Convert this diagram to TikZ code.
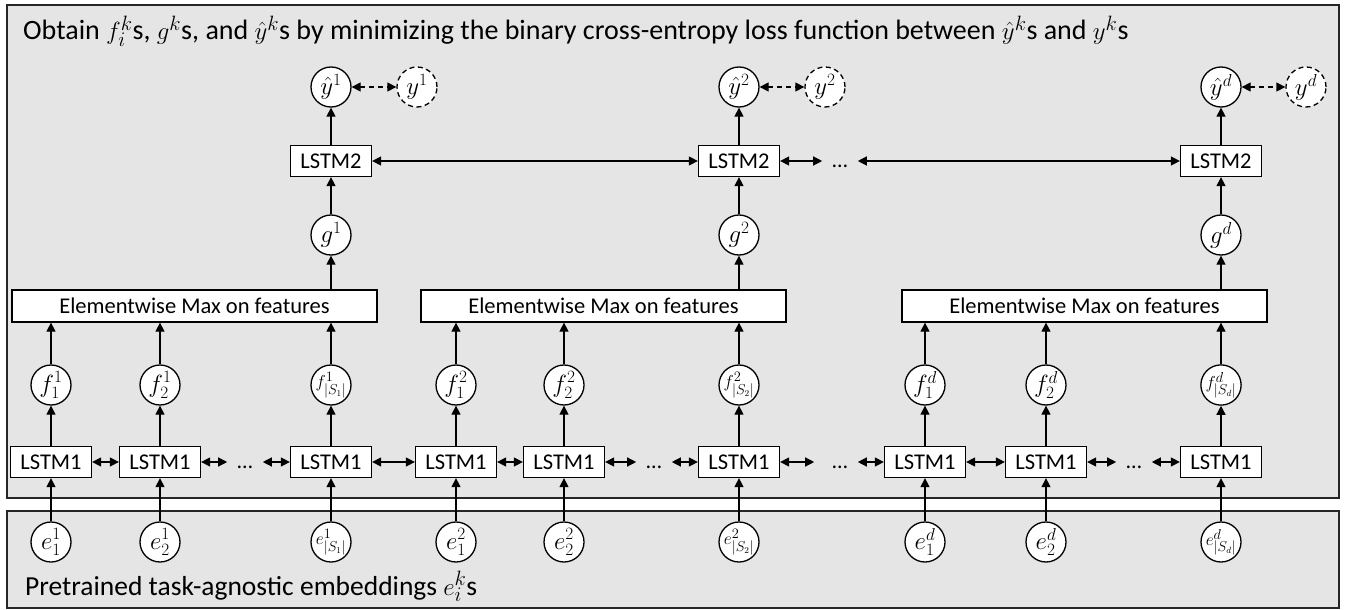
\documentclass[tikz,border=0pt]{standalone}
\usepackage{fontspec}
\setmainfont{Carlito}
\usetikzlibrary{arrows.meta}
\begin{document}
\begin{tikzpicture}[x=1pt,y=-1pt,
  panel/.style={draw=black!85, line width=1.3pt, fill=black!10},
  lbox/.style={draw, line width=1.3pt, fill=white, minimum width=81pt, minimum height=31pt, inner sep=0pt, font=\fontsize{22.5}{25}\selectfont},
  ebox/.style={draw, line width=1.3pt, fill=white, minimum width=365pt, minimum height=32pt, inner sep=0pt, font=\fontsize{22.5}{25}\selectfont},
  circ/.style={circle, draw, line width=1.3pt, fill=white, minimum size=40pt, inner sep=0pt, font=\fontsize{23}{25}\selectfont},
  scirc/.style={circ, font=\fontsize{19}{21}\selectfont},
  dcirc/.style={circ, dash pattern=on 5pt off 3.5pt},
  dotlbl/.style={font=\fontsize{22}{24}\selectfont, inner xsep=10pt, inner ysep=0pt},
  arr/.style={-{Triangle[length=9pt,width=9pt]}, line width=1.3pt},
  darr/.style={{Triangle[length=9pt,width=9pt]}-{Triangle[length=9pt,width=9pt]}, line width=1.3pt},
  txt/.style={font=\fontsize{28}{32}\selectfont, inner sep=0pt}
]
\useasboundingbox (0,0) rectangle (1345,610);
\draw[panel] (7,5) rectangle (1339,498);
\draw[panel] (7,511) rectangle (1339,608);

\node[txt, anchor=base west] (title) at (23,40) {Obtain $f_i^k$s, $g^k$s, and $\hat{y}^k$s by minimizing the binary cross-entropy loss function between $\hat{y}^k$s and $y^k$s};
\node[txt, font=\fontsize{27.5}{31}\selectfont, anchor=base west] (bottom) at (25,595) {Pretrained task-agnostic embeddings $e_i^k$s};

% LSTM1 row
\node[lbox] (l1) at (51,462) {LSTM1};
\node[lbox] (l2) at (160,462) {LSTM1};
\node[lbox] (l3) at (331,462) {LSTM1};
\node[lbox] (l4) at (456,462) {LSTM1};
\node[lbox] (l5) at (564,462) {LSTM1};
\node[lbox] (l6) at (739,462) {LSTM1};
\node[lbox] (l7) at (925,462) {LSTM1};
\node[lbox] (l8) at (1046,462) {LSTM1};
\node[lbox] (l9) at (1221,462) {LSTM1};
\node[dotlbl] (d1) at (245,467) {…};
\node[dotlbl] (d2) at (654,467) {…};
\node[dotlbl] (d3) at (840,467) {…};
\node[dotlbl] (d4) at (1134,467) {…};

\draw[darr] (l1.east) -- (l2.west);
\draw[darr] (l2.east) -- (d1.west |- l2.east);
\draw[darr] (d1.east |- l3.west) -- (l3.west);
\draw[darr] (l3.east) -- (l4.west);
\draw[darr] (l4.east) -- (l5.west);
\draw[darr] (l5.east) -- (d2.west |- l5.east);
\draw[darr] (d2.east |- l6.west) -- (l6.west);
\draw[darr] (l6.east) -- ([xshift=-8pt]d3.west |- l6.east);
\draw[darr] (d3.east |- l7.west) -- (l7.west);
\draw[darr] (l7.east) -- (l8.west);
\draw[darr] (l8.east) -- (d4.west |- l8.east);
\draw[darr] (d4.east |- l9.west) -- (l9.west);

% e row
\node[circ] (e1) at (51,542) {$e^1_1$};
\node[circ] (e2) at (160,542) {$e^1_2$};
\node[scirc] (e3) at (331,542) {$e^1_{|S_1|}$};
\node[circ] (e4) at (456,542) {$e^2_1$};
\node[circ] (e5) at (564,542) {$e^2_2$};
\node[scirc] (e6) at (739,542) {$e^2_{|S_2|}$};
\node[circ] (e7) at (925,542) {$e^d_1$};
\node[circ] (e8) at (1046,542) {$e^d_2$};
\node[scirc] (e9) at (1221,542) {$e^d_{|S_d|}$};

% f row
\node[circ] (f1) at (51,385) {$f^1_1$};
\node[circ] (f2) at (160,385) {$f^1_2$};
\node[scirc] (f3) at (331,385) {$f^1_{|S_1|}$};
\node[circ] (f4) at (456,385) {$f^2_1$};
\node[circ] (f5) at (564,385) {$f^2_2$};
\node[scirc] (f6) at (739,385) {$f^2_{|S_2|}$};
\node[circ] (f7) at (925,385) {$f^d_1$};
\node[circ] (f8) at (1046,385) {$f^d_2$};
\node[scirc] (f9) at (1221,385) {$f^d_{|S_d|}$};

\foreach \i in {1,...,9}{
  \draw[arr] (e\i.north) -- (l\i.south);
  \draw[arr] (l\i.north) -- (f\i.south);
}

% elementwise max
\node[ebox] (m1) at (194.5,306) {Elementwise Max on features};
\node[ebox] (m2) at (603.5,306) {Elementwise Max on features};
\node[ebox] (m3) at (1084.5,306) {Elementwise Max on features};
\foreach \i in {1,2,3}{\draw[arr] (f\i.north) -- (f\i.north |- m1.south);}
\foreach \i in {4,5,6}{\draw[arr] (f\i.north) -- (f\i.north |- m2.south);}
\foreach \i in {7,8,9}{\draw[arr] (f\i.north) -- (f\i.north |- m3.south);}

% g
\node[circ] (g1) at (331,235) {$g^1$};
\node[circ] (g2) at (739,235) {$g^2$};
\node[circ] (g3) at (1221,235) {$g^d$};
\draw[arr] (g1.south |- m1.north) -- (g1.south);
\draw[arr] (g2.south |- m2.north) -- (g2.south);
\draw[arr] (g3.south |- m3.north) -- (g3.south);

% LSTM2
\node[lbox] (b1) at (331,161) {LSTM2};
\node[lbox] (b2) at (739,161) {LSTM2};
\node[lbox] (b3) at (1221,161) {LSTM2};
\node[dotlbl] (d5) at (840,166) {…};
\foreach \i in {1,2,3}{\draw[arr] (g\i.north) -- (b\i.south);}
\draw[darr] (b1.east) -- (b2.west);
\draw[darr] (b2.east) -- (d5.west |- b2.east);
\draw[darr] (d5.east |- b3.west) -- (b3.west);

% outputs
\node[circ] (yh1) at (331,87) {$\hat{y}^1$};
\node[circ] (yh2) at (739,87) {$\hat{y}^2$};
\node[circ] (yh3) at (1221,87) {$\hat{y}^d$};
\node[dcirc] (y1) at (417,87) {$y^1$};
\node[dcirc] (y2) at (825,87) {$y^2$};
\node[dcirc] (y3) at (1306,87) {$y^d$};
\foreach \i in {1,2,3}{
  \draw[arr] (b\i.north) -- (yh\i.south);
  \draw[darr, dash pattern=on 5pt off 4pt] (yh\i.east) -- (y\i.west);
}
\end{tikzpicture}
\end{document}
